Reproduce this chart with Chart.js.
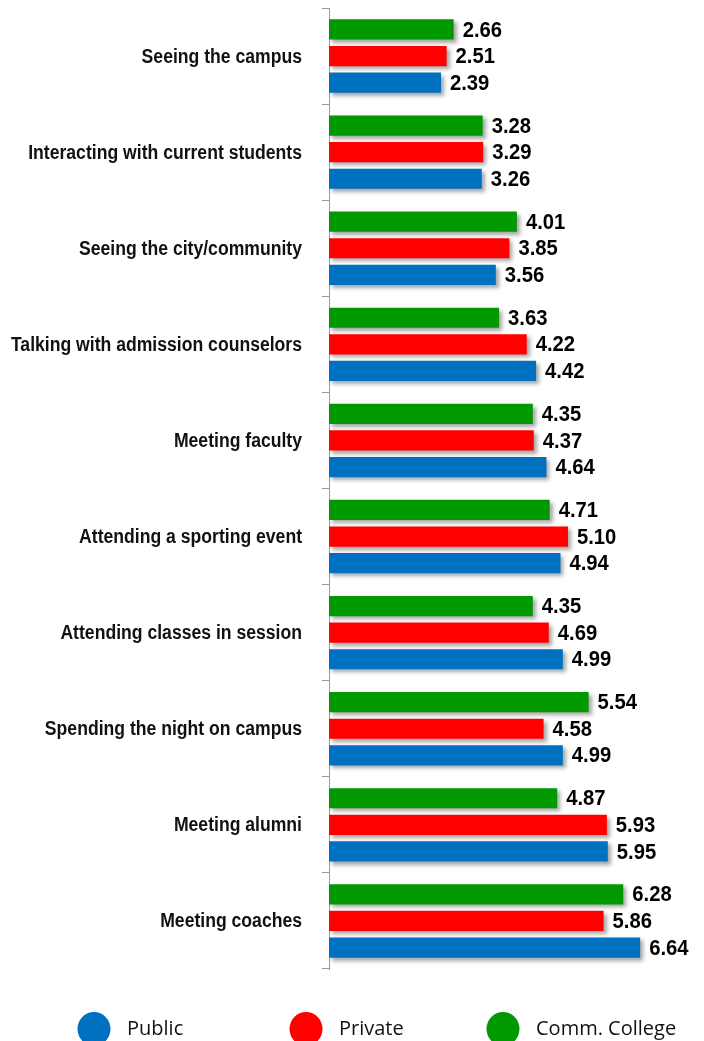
<!DOCTYPE html>
<html>
<head>
<meta charset="utf-8">
<script src="https://cdn.jsdelivr.net/npm/chart.js@4.4.1/dist/chart.umd.min.js"></script>
<style>
    html, body { margin: 0; padding: 0; background: #fff; }
    #wrap { width: 704px; height: 1041px; position: relative; }
</style>
</head>
<body>
<div id="wrap"><canvas id="visitChart"></canvas></div>
<script>
const categories = [
    'Seeing the campus',
    'Interacting with current students',
    'Seeing the city/community',
    'Talking with admission counselors',
    'Meeting faculty',
    'Attending a sporting event',
    'Attending classes in session',
    'Spending the night on campus',
    'Meeting alumni',
    'Meeting coaches'
];
const commCollegeValues = [2.66, 3.28, 4.01, 3.63, 4.35, 4.71, 4.35, 5.54, 4.87, 6.28];
const privateValues     = [2.51, 3.29, 3.85, 4.22, 4.37, 5.10, 4.69, 4.58, 5.93, 5.86];
const publicValues      = [2.39, 3.26, 3.56, 4.42, 4.64, 4.94, 4.99, 4.99, 5.95, 6.64];
const xTicks = { min: 0, max: 7 };

const SANS = '"Liberation Sans", Arial, sans-serif';

// soft drop shadow under the bars
const barShadow = {
    id: 'barShadow',
    beforeDatasetsDraw(chart) {
        const ctx = chart.ctx;
        ctx.save();
        ctx.shadowColor = 'rgba(0,0,0,0.35)';
        ctx.shadowBlur = 4;
        ctx.shadowOffsetX = 3;
        ctx.shadowOffsetY = 3;
    },
    afterDatasetsDraw(chart) {
        chart.ctx.restore();
    }
};

// category names, squeezed horizontally to get a condensed face
const categoryLabels = {
    id: 'categoryLabels',
    afterDraw(chart) {
        const ctx = chart.ctx;
        const yScale = chart.scales.y;
        const squeeze = 0.88;
        const right = yScale.right - 27;
        ctx.save();
        ctx.font = 'bold 20px ' + SANS;
        ctx.fillStyle = '#111';
        ctx.textAlign = 'right';
        ctx.textBaseline = 'middle';
        ctx.scale(squeeze, 1);
        chart.data.labels.forEach((label, i) => {
            ctx.fillText(label, right / squeeze, yScale.getPixelForValue(i) + 1);
        });
        ctx.restore();
    }
};

// value at the end of every bar
const valueLabels = {
    id: 'valueLabels',
    afterDatasetsDraw(chart) {
        const ctx = chart.ctx;
        const squeeze = 0.92;
        ctx.save();
        ctx.font = 'bold 22px ' + SANS;
        ctx.fillStyle = '#000';
        ctx.textAlign = 'left';
        ctx.textBaseline = 'middle';
        ctx.scale(squeeze, 1);
        chart.data.datasets.forEach((ds, i) => {
            chart.getDatasetMeta(i).data.forEach((bar, idx) => {
                ctx.fillText(ds.data[idx].toFixed(2), (bar.x + 9) / squeeze, bar.y + 1);
            });
        });
        ctx.restore();
    }
};

// legend row along the bottom: Public, Private, Comm. College
const bottomLegend = {
    id: 'bottomLegend',
    afterDraw(chart, args, opts) {
        const ctx = chart.ctx;
        const items = chart.data.datasets.slice().reverse();
        ctx.save();
        ctx.font = '20px "Open Sans", sans-serif';
        ctx.textBaseline = 'middle';
        ctx.textAlign = 'left';
        items.forEach((ds, i) => {
            const cx = opts.centers[i];
            ctx.fillStyle = ds.backgroundColor;
            ctx.beginPath();
            ctx.ellipse(cx, opts.y, 16.5, 17, 0, 0, Math.PI * 2);
            ctx.fill();
            ctx.fillStyle = '#111';
            ctx.fillText(ds.label, cx + 33, opts.y);
        });
        ctx.restore();
    }
};

new Chart(document.getElementById('visitChart'), {
    type: 'bar',
    data: {
        labels: categories,
        datasets: [
            { label: 'Comm. College', data: commCollegeValues, backgroundColor: '#009900' },
            { label: 'Private', data: privateValues, backgroundColor: '#ff0000' },
            { label: 'Public', data: publicValues, backgroundColor: '#0070c0' }
        ]
    },
    options: {
        indexAxis: 'y',
        responsive: true,
        maintainAspectRatio: false,
        animation: false,
        categoryPercentage: 0.83,
        barPercentage: 0.76,
        layout: { padding: { top: 8, right: 47, bottom: 72, left: 0 } },
        plugins: {
            legend: { display: false },
            tooltip: { enabled: false },
            bottomLegend: { centers: [94, 306, 503], y: 1029 }
        },
        scales: {
            x: {
                display: false,
                min: xTicks.min,
                max: xTicks.max
            },
            y: {
                afterFit: (scale) => {
                    scale.width = 329;
                    scale.paddingTop = 0;
                    scale.paddingBottom = 0;
                },
                border: { display: true, color: '#9a9a9a', width: 1 },
                grid: {
                    offset: true,
                    drawOnChartArea: false,
                    drawTicks: true,
                    tickLength: 7,
                    color: '#9a9a9a'
                },
                ticks: { display: false }
            }
        }
    },
    plugins: [barShadow, valueLabels, categoryLabels, bottomLegend]
});
</script>
</body>
</html>
